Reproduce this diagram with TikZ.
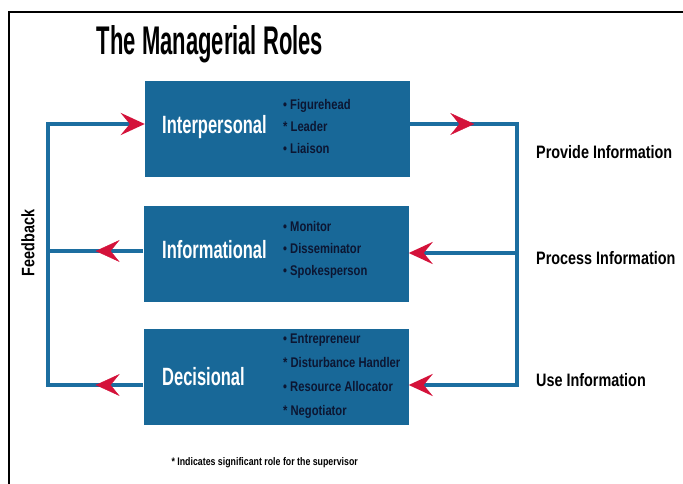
\documentclass[tikz,border=0pt]{standalone}
\usepackage{fontspec}
\setmainfont{Liberation Sans}
\newfontfamily\condfont[FakeStretch=0.55]{Liberation Sans}
\newfontfamily\namefont[FakeStretch=0.66]{Liberation Sans}
\newfontfamily\dutyfont[FakeStretch=0.8]{Liberation Sans}
\usetikzlibrary{arrows.meta,positioning,decorations.markings}

\definecolor{rolesblue}{RGB}{24,104,152}
\definecolor{loopblue}{RGB}{28,110,160}
\definecolor{tipred}{RGB}{212,18,58}
\definecolor{dutyink}{RGB}{12,22,50}

\begin{document}
\begin{tikzpicture}[x=1pt, y=-1pt,
  role/.style={fill=rolesblue, minimum width=265pt, minimum height=96pt, inner sep=0pt},
  rolename/.style={text=white, font=\namefont\bfseries\fontsize{25}{28}\selectfont, anchor=west, inner sep=0pt},
  duties/.style={text=dutyink, font=\dutyfont\bfseries\fontsize{14}{22}\selectfont, align=left, anchor=west, inner sep=0pt},
  sidelabel/.style={font=\dutyfont\bfseries\fontsize{18}{20}\selectfont, anchor=west, inner sep=0pt},
  flow/.style={draw=loopblue, line width=4pt},
  redtip/.tip={Stealth[length=24pt, width=22pt, inset=9pt, color=tipred]},
  tipat/.style={postaction={decorate}, decoration={markings, mark=at position #1 with {\arrow{redtip}}}}
]
\useasboundingbox (0,0) rectangle (683,484);

% Frame
\draw[line width=2.5pt] (9,484) -- (9,12) -- (683,12);

% Title
\node[font=\condfont\bfseries\fontsize{40}{42}\selectfont] (title) at (210,44) {The Managerial Roles};

% Roles
\node[role] (inter) at (277.5,129.5) {};
\node[role] (info) at (276,253.5) {};
\node[role] (deci) at (276,376.5) {};

\node[rolename] (intername) at (162,127) {Interpersonal};
\node[rolename] (infoname) at (162,250) {Informational};
\node[rolename] (deciname) at (162,377) {Decisional};

\node[duties] (interduties) at (283,126) {• Figurehead\\* Leader\\• Liaison};
\node[duties] (infoduties) at (283,250) {• Monitor\\• Disseminator\\• Spokesperson};
\node[duties] (deciduties) at (283,376) {• Entrepreneur\\[2pt]* Disturbance Handler\\[2pt]• Resource Allocator\\[2pt]* Negotiator};

% Side labels
\node[sidelabel] (provide) at (536,152) {Provide Information};
\node[sidelabel] (process) at (536,258) {Process Information};
\node[sidelabel] (use) at (536,380) {Use Information};
\node[sidelabel, anchor=center, rotate=90] (feedback) at (28,243) {Feedback};

\node[font=\dutyfont\bfseries\fontsize{11}{13}\selectfont, anchor=west] (note) at (168,463) {* Indicates significant role for the supervisor};

% Loops
\coordinate (r1) at (517,124);
\coordinate (r2) at (517,253);
\coordinate (r3) at (517,385);
\coordinate (l1) at (48,124);
\coordinate (l2) at (48,251);
\coordinate (l3) at (48,385);

\draw[flow, -{redtip}] (inter.east |- r1) -- (r1) -- (r3) -- (deci.east |- r3);
\draw[flow, -{redtip}] (r2) -- (info.east |- r2);
\path[tipat=0.6] (inter.east |- r1) -- (r1);

\draw[flow, -{redtip}] (deci.west |- l3) -- (l3) -- (l1) -- (inter.west |- l1);
\draw[flow] (info.west |- l2) -- (l2);
\path[tipat=0.5] (info.west |- l2) -- (l2);
\path[tipat=0.5] (deci.west |- l3) -- (l3);

\end{tikzpicture}
\end{document}
